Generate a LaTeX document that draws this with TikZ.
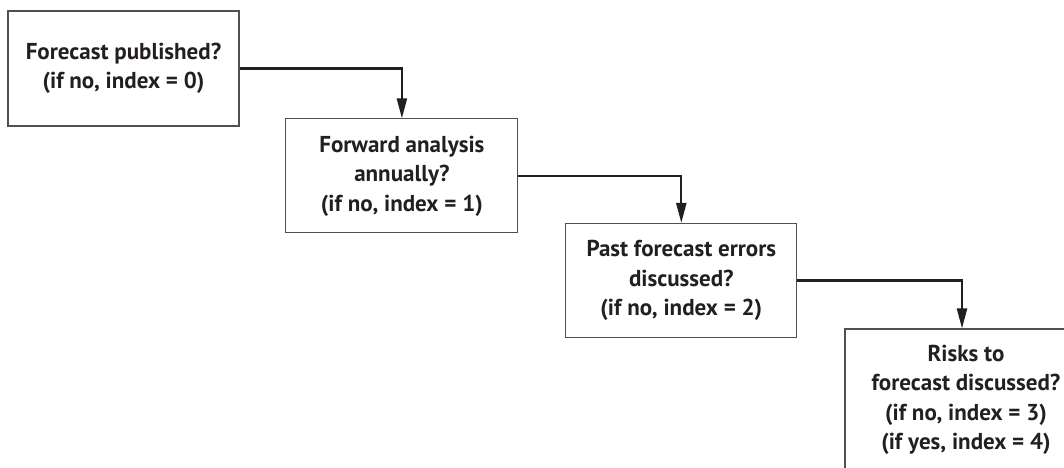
\documentclass[tikz,border=0pt]{standalone}
\usepackage{fontspec}
\setmainfont{PT Sans}
\usetikzlibrary{arrows.meta}
\definecolor{ink}{HTML}{231F20}
\definecolor{boxline}{HTML}{505050}
\begin{document}
\begin{tikzpicture}[x=1pt,y=1pt,
  qbox/.style={draw=boxline, line width=1.1pt, inner sep=0pt, align=center,
    text=ink, font=\fontsize{23}{29.5}\selectfont\bfseries},
  flow/.style={draw=ink, line width=2.2pt, -{Triangle[length=20pt,width=10pt]}}]
\useasboundingbox (0,0) rectangle (1064,467);
\clip (0,0) rectangle (1064,467);
\node[qbox, minimum width=231pt, minimum height=115pt] (b1) at (123.5,398.5)
  {Forecast published?\\(if no, index = 0)};
\node[qbox, minimum width=232pt, minimum height=114pt] (b2) at (401.9,291.1)
  {Forward analysis\\annually?\\(if no, index = 1)};
\node[qbox, minimum width=231pt, minimum height=114pt] (b3) at (681.3,186.5)
  {Past forecast errors\\discussed?\\(if no, index = 2)};
\node[qbox, minimum width=242pt, minimum height=142pt] (b4) at (966,67)
  {Risks to\\forecast discussed?\\(if no, index = 3)\\(if yes, index = 4)};
\coordinate (b4in) at ([xshift=-4pt]b4.north);
\draw[flow] (b1.east) -| (b2.north);
\draw[flow] (b2.east) -| (b3.north);
\draw[flow] (b3.east) -| (b4in);
\end{tikzpicture}
\end{document}
